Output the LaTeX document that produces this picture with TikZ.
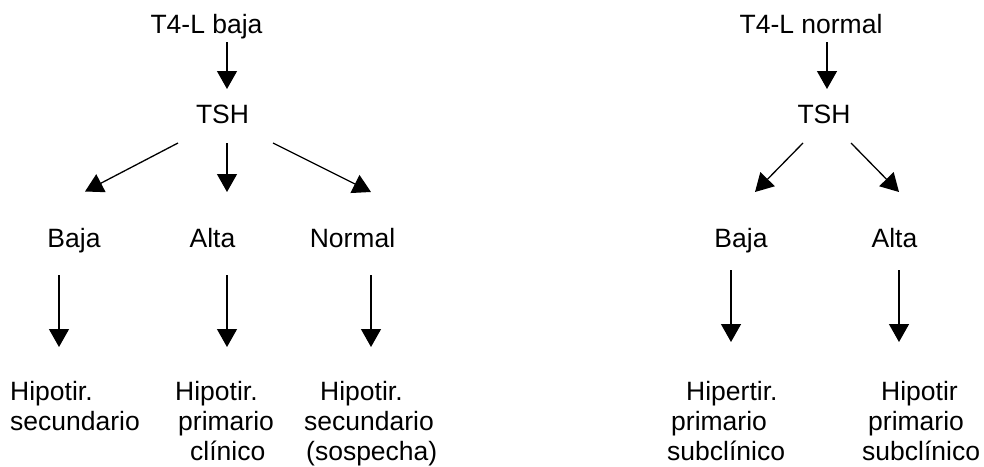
\documentclass[tikz,border=0pt]{standalone}
\usepackage{fontspec}
\setmainfont{Liberation Sans}
\usetikzlibrary{arrows.meta}
\begin{document}
\begin{tikzpicture}[x=1pt,y=-1pt,
  lbl/.style={inner sep=0pt, font=\fontsize{26.5}{30}\selectfont},
  one/.style={lbl, anchor=base},
  multi/.style={lbl, align=left, anchor=base west},
  arr/.style={-{Triangle[length=18pt,width=20pt]}, line width=1.3pt}]
\useasboundingbox (0,0) rectangle (984,466);
% left tree
\node[one] (t4b) at (206.5,33) {T4-L baja};
\node[one] (tshA) at (222.5,123) {TSH};
\node[one] (bajaA) at (74,247) {Baja};
\node[one] (altaA) at (212.5,247) {Alta};
\node[one] (normA) at (352.5,247) {Normal};
\node[multi] (r1) at (10,430) {Hipotir.\\secundario};
\node[multi] (r2) at (175,460) {Hipotir.\\\hspace*{3pt}primario\\\hspace*{15pt}clínico};
\node[multi] (r3) at (304,460) {\hspace*{16pt}Hipotir.\\secundario\\\hspace*{2pt}(sospecha)};
% right tree
\node[one] (t4n) at (811,33) {T4-L normal};
\node[one] (tshB) at (824,123) {TSH};
\node[one] (bajaB) at (741,247) {Baja};
\node[one] (altaB) at (894.5,247) {Alta};
\node[multi] (r4) at (667,460) {\hspace*{19pt}Hipertir.\\\hspace*{4pt}primario\\subclínico};
\node[multi] (r5) at (862,460) {\hspace*{19pt}Hipotir\\\hspace*{6pt}primario\\subclínico};
% connector ends
\coordinate (a0s) at (227,42);  \coordinate (a0e) at (227,89);
\coordinate (a1s) at (178,143); \coordinate (a1e) at (85,191.5);
\coordinate (a2s) at (227,143); \coordinate (a2e) at (227,192);
\coordinate (a3s) at (273,143); \coordinate (a3e) at (371,192);
\coordinate (v1s) at (59,275);  \coordinate (v1e) at (59,347);
\coordinate (v2s) at (227,275); \coordinate (v2e) at (227,347);
\coordinate (v3s) at (371,275); \coordinate (v3e) at (371,347);
\coordinate (b0s) at (827,42);  \coordinate (b0e) at (827,89);
\coordinate (b1s) at (803,143); \coordinate (b1e) at (755,192);
\coordinate (b2s) at (851,143); \coordinate (b2e) at (899,192);
\coordinate (w1s) at (731,270); \coordinate (w1e) at (731,342);
\coordinate (w2s) at (899,270); \coordinate (w2e) at (899,342);
\foreach \p in {a0,a1,a2,a3,v1,v2,v3,b0,b1,b2,w1,w2}
  \draw[arr] (\p s) -- (\p e);
\end{tikzpicture}
\end{document}
